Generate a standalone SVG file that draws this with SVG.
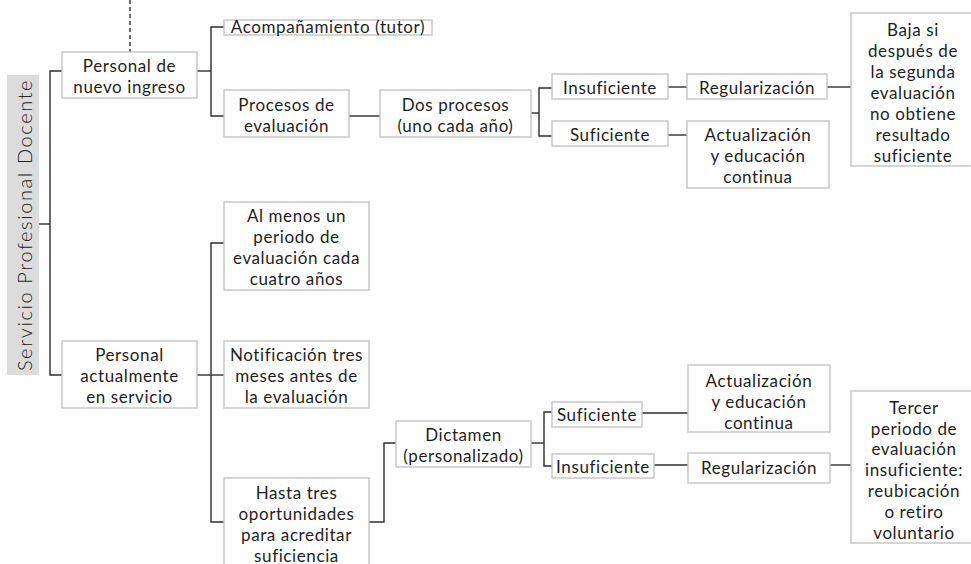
<svg xmlns="http://www.w3.org/2000/svg" width="971" height="564" viewBox="0 0 971 564">
<style>
.box{fill:#fff;stroke:#c4c4c4;stroke-width:1.4}
.t{font-family:Lato,"Noto Sans","Liberation Sans",sans-serif;font-size:17px;letter-spacing:0.6px;fill:#1e1e1e;text-anchor:middle;dominant-baseline:central}
.c{fill:none;stroke:#2e2e2e;stroke-width:1.4}
.title{font-family:Lato,"Noto Sans","Liberation Sans",sans-serif;font-size:20px;letter-spacing:1.6px;font-weight:300;fill:#222;text-anchor:middle;dominant-baseline:central}
</style>
<rect width="971" height="564" fill="#fff"/>
<g id="connectors">
<path class="c" d="M130 0V52" stroke-dasharray="4 3"/>
<path class="c" d="M39 224H50"/>
<path class="c" d="M62 71H50V375H62"/>
<path class="c" d="M197 71H211"/>
<path class="c" d="M224 27H211V116H224"/>
<path class="c" d="M349 116H380"/>
<path class="c" d="M531 113H539"/>
<path class="c" d="M552 88H539V136H552"/>
<path class="c" d="M668 87H687"/>
<path class="c" d="M827 87H851"/>
<path class="c" d="M668 135H687"/>
<path class="c" d="M197 375H224"/>
<path class="c" d="M224 243H211V522H224"/>
<path class="c" d="M369 522H384V443H396"/>
<path class="c" d="M531 443H544"/>
<path class="c" d="M552 412H544V466H552"/>
<path class="c" d="M642 413H688"/>
<path class="c" d="M654 465H688"/>
<path class="c" d="M830 465H851"/>
</g>
<g id="n-servicio">
<rect x="7" y="75" width="32" height="300" fill="#dcdcdc"/>
<text class="title" transform="translate(24 225) rotate(-90)">Servicio Profesional Docente</text>
</g>
<g id="n-nuevo">
<rect class="box" x="62" y="52" width="135" height="46"/>
<text class="t" x="129.5" y="65">Personal de</text>
<text class="t" x="129.5" y="86">nuevo ingreso</text>
</g>
<g id="n-acomp">
<rect class="box" x="224" y="20" width="208" height="15"/>
<text class="t" x="328" y="26">Acompañamiento (tutor)</text>
</g>
<g id="n-procesos">
<rect class="box" x="224" y="90" width="125" height="47"/>
<text class="t" x="286.5" y="104">Procesos de</text>
<text class="t" x="286.5" y="125">evaluación</text>
</g>
<g id="n-dos">
<rect class="box" x="380" y="90" width="151" height="47"/>
<text class="t" x="455.5" y="104">Dos procesos</text>
<text class="t" x="455.5" y="125">(uno cada año)</text>
</g>
<g id="n-insuf1">
<rect class="box" x="552" y="74" width="116" height="25"/>
<text class="t" x="610" y="87">Insuficiente</text>
</g>
<g id="n-suf1">
<rect class="box" x="552" y="121" width="116" height="25"/>
<text class="t" x="610" y="134">Suficiente</text>
</g>
<g id="n-reg1">
<rect class="box" x="687" y="74" width="140" height="25"/>
<text class="t" x="757" y="87">Regularización</text>
</g>
<g id="n-act1">
<rect class="box" x="687" y="121" width="142" height="67"/>
<text class="t" x="758" y="134">Actualización</text>
<text class="t" x="758" y="155">y educación</text>
<text class="t" x="758" y="176">continua</text>
</g>
<g id="n-baja">
<rect class="box" x="851" y="13" width="127" height="153"/>
<text class="t" x="913" y="29">Baja si</text>
<text class="t" x="913" y="50">después de</text>
<text class="t" x="913" y="71">la segunda</text>
<text class="t" x="913" y="92">evaluación</text>
<text class="t" x="913" y="113">no obtiene</text>
<text class="t" x="913" y="134">resultado</text>
<text class="t" x="913" y="155">suficiente</text>
</g>
<g id="n-actual">
<rect class="box" x="62" y="341" width="135" height="67"/>
<text class="t" x="129.5" y="354">Personal</text>
<text class="t" x="129.5" y="375">actualmente</text>
<text class="t" x="129.5" y="396">en servicio</text>
</g>
<g id="n-almenos">
<rect class="box" x="224" y="202" width="145" height="88"/>
<text class="t" x="296.5" y="215">Al menos un</text>
<text class="t" x="296.5" y="236">periodo de</text>
<text class="t" x="296.5" y="257">evaluación cada</text>
<text class="t" x="296.5" y="278">cuatro años</text>
</g>
<g id="n-notif">
<rect class="box" x="224" y="341" width="145" height="67"/>
<text class="t" x="296.5" y="354">Notificación tres</text>
<text class="t" x="296.5" y="375">meses antes de</text>
<text class="t" x="296.5" y="396">la evaluación</text>
</g>
<g id="n-hasta">
<rect class="box" x="224" y="478" width="145" height="100"/>
<text class="t" x="296.5" y="492">Hasta tres</text>
<text class="t" x="296.5" y="513">oportunidades</text>
<text class="t" x="296.5" y="534">para acreditar</text>
<text class="t" x="296.5" y="555">suficiencia</text>
</g>
<g id="n-dictamen">
<rect class="box" x="396" y="421" width="135" height="46"/>
<text class="t" x="463.5" y="434">Dictamen</text>
<text class="t" x="463.5" y="455">(personalizado)</text>
</g>
<g id="n-suf2">
<rect class="box" x="552" y="402" width="90" height="25"/>
<text class="t" x="597" y="414">Suficiente</text>
</g>
<g id="n-insuf2">
<rect class="box" x="552" y="454" width="102" height="24"/>
<text class="t" x="603" y="466">Insuficiente</text>
</g>
<g id="n-act2">
<rect class="box" x="688" y="365" width="142" height="67"/>
<text class="t" x="759" y="380">Actualización</text>
<text class="t" x="759" y="401">y educación</text>
<text class="t" x="759" y="422">continua</text>
</g>
<g id="n-reg2">
<rect class="box" x="688" y="453" width="142" height="30"/>
<text class="t" x="759" y="467">Regularización</text>
</g>
<g id="n-tercer">
<rect class="box" x="851" y="391" width="127" height="152"/>
<text class="t" x="914" y="407">Tercer</text>
<text class="t" x="914" y="428">periodo de</text>
<text class="t" x="914" y="448">evaluación</text>
<text class="t" x="914" y="469">insuficiente:</text>
<text class="t" x="914" y="490">reubicación</text>
<text class="t" x="914" y="511">o retiro</text>
<text class="t" x="914" y="532">voluntario</text>
</g>
</svg>
